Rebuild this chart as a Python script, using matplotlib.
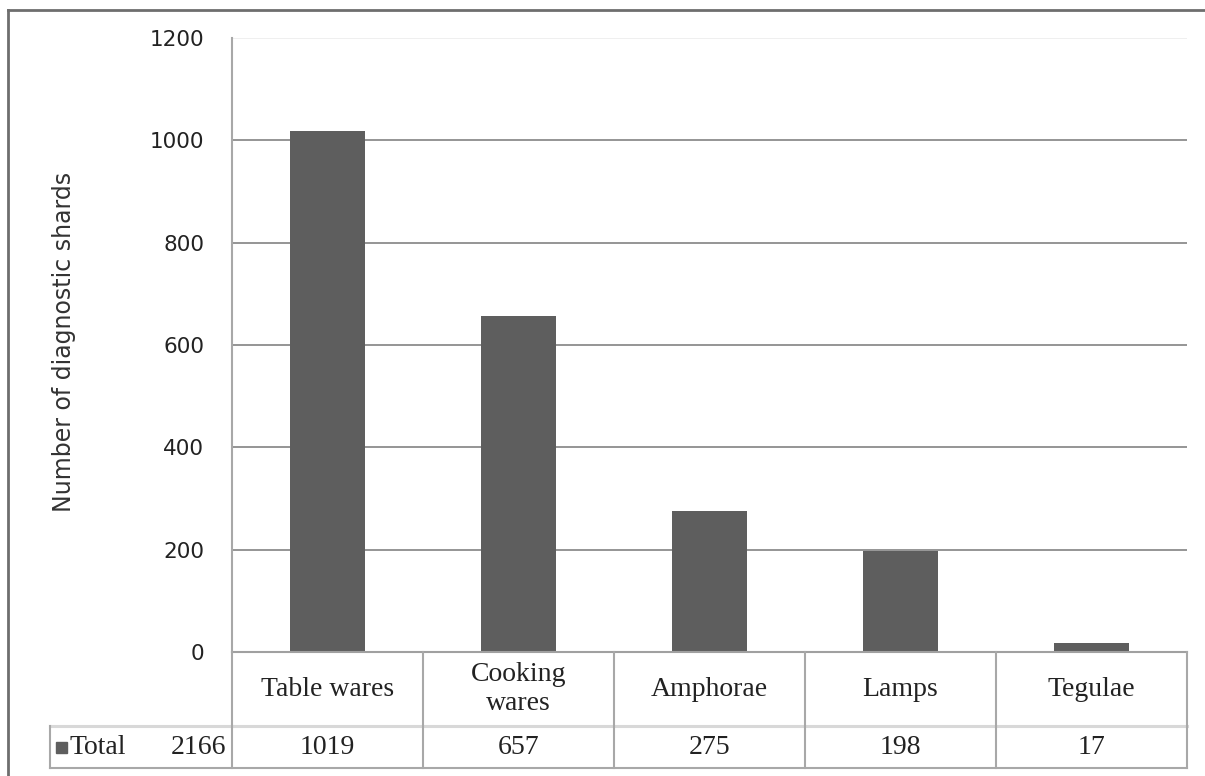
import matplotlib
matplotlib.use("Agg")
import matplotlib.pyplot as plt
from matplotlib.lines import Line2D
from matplotlib.patches import Rectangle
import matplotlib.transforms as mtransforms

categories = ["Table wares", "Cooking\nwares", "Amphorae", "Lamps", "Tegulae"]
values = [1019, 657, 275, 198, 17]
series_name = "Total"
total_value = 2166
yticks = [0, 200, 400, 600, 800, 1000, 1200]
ylabel = "Number of diagnostic shards"

W, H = 1205, 776
fig = plt.figure(figsize=(W / 100, H / 100), dpi=100)
fig.patch.set_facecolor("white")

left_px, right_px, top_px, bottom_px = 232, 1187, 38, 652
ax = fig.add_axes([left_px / W, 1 - bottom_px / H, (right_px - left_px) / W, (bottom_px - top_px) / H])

x = list(range(len(categories)))
bar_color = "#5e5e5e"
ax.bar(x, values, width=0.39, color=bar_color, zorder=3)
ax.set_xlim(-0.5, len(categories) - 0.5)
ax.set_ylim(0, 1200)
ax.set_yticks(yticks)
ax.set_yticklabels([str(t) for t in yticks], fontsize=15.5, color="#222222", family="DejaVu Sans")
ax.tick_params(axis="y", length=0, pad=20)
ax.set_xticks([])
for s in ["top", "right", "bottom"]:
    ax.spines[s].set_visible(False)
ax.spines["left"].set_color("#a8a8a8")
ax.spines["left"].set_linewidth(1.5)

for t in yticks:
    if t == 0:
        continue
    c = "#eeeeee" if t == 1200 else "#8c8c8c"
    ax.axhline(t, color=c, lw=1.3, zorder=1)

ax.set_ylabel(ylabel, fontsize=17, color="#333333", family="DejaVu Sans")
ax.yaxis.set_label_coords((76 - left_px) / (right_px - left_px), 0.505)

# data table below axes
ah = bottom_px - top_px
aw = right_px - left_px
row1 = -(726 - 652) / ah
row2 = -(768 - 652) / ah
lc = "#a8a8a8"
trans = mtransforms.blended_transform_factory(ax.transData, ax.transAxes)
ax_tr = ax.transAxes

def line(xs, ys, tr, color=lc, lw=1.5):
    ax.add_line(Line2D(xs, ys, transform=tr, color=color, lw=lw, clip_on=False, zorder=5))

n = len(categories)
# horizontal lines
line([-0.5, n - 0.5], [0, 0], trans, color="#a0a0a0")
line([-0.5, n - 0.5], [row1, row1], trans, color="#d8d8d8", lw=2.2)
left_cell = (50 - left_px) / aw
line([left_cell, 1], [row2, row2], ax_tr)
line([left_cell, 0], [row1, row1], ax_tr, color="#d8d8d8", lw=2.2)
line([left_cell, left_cell], [row1, row2], ax_tr)
# vertical lines
for i in range(n + 1):
    line([i - 0.5, i - 0.5], [0, row2], trans)

serif = "Liberation Serif"
for i, (c, v) in enumerate(zip(categories, values)):
    ax.text(i, row1 / 2, c, transform=trans, ha="center", va="center", fontsize=20,
            family=serif, color="#222222", linespacing=1.25)
    ax.text(i, (row1 + row2) / 2, str(v), transform=trans, ha="center", va="center",
            fontsize=20, family=serif, color="#222222")

ymid = (row1 + row2) / 2
ax.add_patch(Rectangle(((56 - left_px) / aw, ymid - 5.5 / ah), 11 / aw, 11 / ah, transform=ax_tr,
                       color=bar_color, clip_on=False, zorder=6))
ax.text((69 - left_px) / aw, ymid, series_name, transform=ax_tr, ha="left", va="center",
        fontsize=20, family=serif, color="#222222")
ax.text((226 - left_px) / aw, ymid, str(total_value), transform=ax_tr, ha="right", va="center",
        fontsize=20, family=serif, color="#222222")

# outer frame (top and left)
fig.add_artist(Line2D([8 / W, 1], [1 - 10 / H, 1 - 10 / H], transform=fig.transFigure, color="#6e6e6e", lw=2))
fig.add_artist(Line2D([8 / W, 8 / W], [0, 1 - 10 / H], transform=fig.transFigure, color="#6e6e6e", lw=2))

fig.savefig("out.png", dpi=100, facecolor="white")
